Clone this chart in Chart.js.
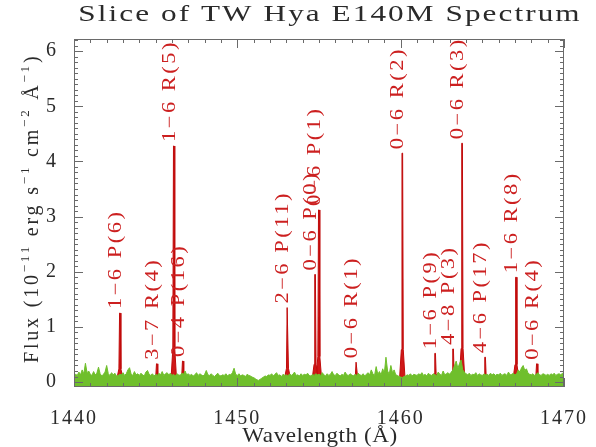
<!DOCTYPE html>
<html>
<head>
<meta charset="utf-8">
<script src="https://cdn.jsdelivr.net/npm/chart.js@4.4.1/dist/chart.umd.min.js"></script>
<style>
  html, body { margin: 0; padding: 0; background: #fff; }
</style>
</head>
<body>
<canvas id="spec" width="596" height="447"></canvas>
<script>
// continuum flux (1e-11 erg/s/cm2/A), 1440.0 - 1470.0 A every 0.1 A, one row per angstrom
var contStart = 1440, contStep = 0.1;
var contFlux = [
  0.10,0.14,0.12,0.18,0.13,0.22,0.15,0.34,0.17,0.20,
  0.14,0.12,0.19,0.13,0.16,0.27,0.15,0.11,0.14,0.18,
  0.30,0.15,0.12,0.17,0.13,0.16,0.11,0.12,0.14,0.13,
  0.17,0.12,0.15,0.22,0.26,0.14,0.12,0.19,0.13,0.15,
  0.12,0.16,0.13,0.11,0.18,0.21,0.14,0.12,0.15,0.11,
  0.14,0.12,0.16,0.13,0.19,0.12,0.15,0.17,0.13,0.16,
  0.12,0.14,0.11,0.15,0.13,0.12,0.16,0.14,0.20,0.13,
  0.15,0.12,0.14,0.11,0.13,0.17,0.12,0.15,0.13,0.11,
  0.14,0.21,0.13,0.12,0.15,0.12,0.10,0.13,0.16,0.12,
  0.11,0.13,0.12,0.15,0.11,0.14,0.13,0.17,0.25,0.14,
  0.12,0.15,0.11,0.13,0.12,0.10,0.14,0.12,0.11,0.09,
  0.08,0.06,0.04,0.03,0.05,0.07,0.09,0.11,0.10,0.13,
  0.12,0.15,0.11,0.14,0.17,0.12,0.13,0.10,0.14,0.12,
  0.13,0.11,0.15,0.12,0.14,0.18,0.12,0.13,0.11,0.15,
  0.12,0.14,0.13,0.16,0.12,0.11,0.14,0.12,0.15,0.13,
  0.14,0.12,0.17,0.13,0.11,0.15,0.12,0.14,0.19,0.13,
  0.12,0.16,0.13,0.11,0.14,0.12,0.18,0.13,0.12,0.15,
  0.13,0.11,0.14,0.12,0.16,0.13,0.12,0.15,0.11,0.14,
  0.17,0.13,0.22,0.15,0.12,0.28,0.14,0.19,0.13,0.24,
  0.16,0.45,0.20,0.14,0.30,0.17,0.22,0.13,0.12,0.10,
  0.09,0.08,0.10,0.11,0.13,0.12,0.15,0.11,0.14,0.13,
  0.12,0.15,0.13,0.17,0.12,0.14,0.11,0.16,0.13,0.12,
  0.15,0.13,0.12,0.18,0.14,0.12,0.20,0.13,0.15,0.17,
  0.14,0.18,0.22,0.30,0.38,0.25,0.33,0.40,0.22,0.18,
  0.15,0.13,0.16,0.12,0.14,0.13,0.17,0.12,0.15,0.13,
  0.12,0.15,0.13,0.14,0.12,0.16,0.13,0.15,0.12,0.14,
  0.13,0.16,0.12,0.14,0.15,0.12,0.18,0.13,0.14,0.16,
  0.13,0.15,0.22,0.18,0.26,0.30,0.21,0.24,0.16,0.14,
  0.13,0.15,0.12,0.14,0.17,0.13,0.12,0.15,0.14,0.12,
  0.14,0.12,0.15,0.13,0.16,0.12,0.14,0.15,0.13,0.16,
  0.14
];

// identified H2 emission lines
var lineName = ['1−6 P(6)', '3−7 R(4)', '1−6 R(5)', '0−4 P(16)', '2−6 P(11)', '0−6 P(0)', '0−6 P(1)',
                '0−6 R(1)', '0−6 R(2)', '1−6 P(9)', '4−8 P(3)', '0−6 R(3)', '4−6 P(17)', '1−6 R(8)', '0−6 R(4)'];
var lineWave = [1442.81, 1445.07, 1446.11, 1446.66, 1453.07, 1454.76, 1454.99,
                1457.29, 1460.10, 1462.11, 1463.21, 1463.76, 1465.17, 1467.06, 1468.34];
var linePeak = [1.25, 0.33, 4.28, 0.38, 1.35, 1.95, 3.12,
                0.36, 4.15, 0.52, 0.60, 4.33, 0.45, 1.90, 0.33];

var xTicks = [1440, 1450, 1460, 1470];
var yTicks = [0, 1, 2, 3, 4, 5, 6];

var green = '#6fbf2c';
var red = '#d01818';
var serif = '"Liberation Serif", "Times New Roman", serif';

// narrow emission profile: broad red foot, thin core
function profile(w, peak) {
  var foot = 0.1;
  var shoulder = foot + (peak - foot) * 0.12;
  return [
    { x: w - 0.16, y: foot },
    { x: w - 0.06, y: shoulder },
    { x: w - 0.02, y: peak },
    { x: w + 0.02, y: peak },
    { x: w + 0.06, y: shoulder },
    { x: w + 0.16, y: foot }
  ];
}

var datasets = [{
  label: 'continuum',
  data: contFlux.map(function (f, i) { return { x: contStart + i * contStep, y: f }; }),
  borderColor: green,
  backgroundColor: green,
  borderWidth: 1,
  fill: 'start',
  pointRadius: 0,
  order: 0
}];
lineWave.forEach(function (w, i) {
  datasets.push({
    label: lineName[i],
    data: profile(w, linePeak[i]),
    borderColor: '#c00a0a',
    backgroundColor: red,
    borderWidth: 1,
    fill: 'start',
    pointRadius: 0,
    order: 1
  });
});

// wide-set serif text (glyphs stretched along the baseline), returns drawn width
function spaced(ctx, txt, x, y, sp, stretch) {
  ctx.save();
  ctx.translate(x, y);
  ctx.scale(stretch, 1);
  ctx.letterSpacing = sp + 'px';
  ctx.fillText(txt, 0, 0);
  var w = ctx.measureText(txt).width * stretch;
  ctx.restore();
  return w;
}

var decor = {
  id: 'decor',
  beforeDraw: function (chart) {
    chart.ctx.letterSpacing = '2px';
  },
  afterDatasetsDraw: function (chart) {
    var ctx = chart.ctx, a = chart.chartArea, xs = chart.scales.x, ys = chart.scales.y;
    ctx.save();
    ctx.strokeStyle = '#6a6a6a';
    ctx.lineWidth = 1;
    ctx.strokeRect(a.left + 0.5, a.top + 0.5, a.right - a.left - 1, a.bottom - a.top - 1);
    // inward ticks: 1 A minor / 10 A major, 0.1 minor / 1 major
    ctx.beginPath();
    for (var w = xs.min; w <= xs.max; w++) {
      var px = Math.round(xs.getPixelForValue(w)) + 0.5;
      var len = (w % 10 === 0) ? 9 : 4;
      ctx.moveTo(px, a.bottom); ctx.lineTo(px, a.bottom - len);
      ctx.moveTo(px, a.top); ctx.lineTo(px, a.top + len);
    }
    for (var k = 0; k <= 62; k++) {
      var v = k / 10;
      if (v > ys.max) break;
      var py = Math.round(ys.getPixelForValue(v)) + 0.5;
      var l2 = (k % 10 === 0) ? 9 : 4;
      ctx.moveTo(a.left, py); ctx.lineTo(a.left + l2, py);
      ctx.moveTo(a.right, py); ctx.lineTo(a.right - l2, py);
    }
    ctx.stroke();

    // line identifications, reading upward from just above each peak
    ctx.fillStyle = '#cc2020';
    ctx.font = '18px ' + serif;
    ctx.textAlign = 'left';
    ctx.textBaseline = 'alphabetic';
    lineWave.forEach(function (w, i) {
      ctx.save();
      ctx.translate(Math.round(xs.getPixelForValue(w)) + 1, ys.getPixelForValue(linePeak[i]) - 4);
      ctx.rotate(-Math.PI / 2);
      spaced(ctx, lineName[i], 0, 0, 2, 1.25);
      ctx.restore();
    });
    ctx.restore();
  },
  afterDraw: function (chart) {
    var ctx = chart.ctx;
    ctx.save();
    ctx.fillStyle = '#2a2a2a';
    ctx.textBaseline = 'alphabetic';

    ctx.textAlign = 'center';
    ctx.font = '24px ' + serif;
    spaced(ctx, 'Slice of TW Hya E140M Spectrum', 330, 21, 1.6, 1.3);

    ctx.font = '21px ' + serif;
    spaced(ctx, 'Wavelength (Å)', 320, 442, 0.5, 1.1);

    // y title with superscript exponents
    var parts = [['Flux (10', 0], ['−11', 1], [' erg s', 0], ['−1', 1], [' cm', 0], ['−2', 1], [' Å', 0], ['−1', 1], [')', 0]];
    ctx.textAlign = 'left';
    ctx.translate(38, 363);
    ctx.rotate(-Math.PI / 2);
    var pos = 0;
    parts.forEach(function (p) {
      ctx.font = (p[1] ? '13px ' : '20px ') + serif;
      pos += spaced(ctx, p[0], pos, p[1] ? -9 : 0, 2.8, 1);
    });
    ctx.restore();
  }
};

new Chart(document.getElementById('spec'), {
  type: 'line',
  data: { datasets: datasets },
  options: {
    responsive: false,
    animation: false,
    devicePixelRatio: 1,
    layout: { padding: { top: 39, right: 31, left: 0, bottom: 0 } },
    plugins: { legend: { display: false }, tooltip: { enabled: false }, title: { display: false } },
    elements: { line: { tension: 0 } },
    scales: {
      x: {
        type: 'linear',
        min: 1440,
        max: 1470,
        grid: { display: false },
        border: { display: false },
        afterBuildTicks: function (s) { s.ticks = xTicks.map(function (v) { return { value: v }; }); },
        afterFit: function (s) { s.height = 60; },
        ticks: {
          font: { family: serif, size: 20 }, color: '#2a2a2a', padding: 12, maxRotation: 0, autoSkip: false,
          callback: function (v) { return String(v); }
        }
      },
      y: {
        type: 'linear',
        min: -0.09,
        max: 6.22,
        grid: { display: false },
        border: { display: false },
        afterBuildTicks: function (s) { s.ticks = yTicks.map(function (v) { return { value: v }; }); },
        afterFit: function (s) { s.width = 74; },
        ticks: {
          font: { family: serif, size: 20 }, color: '#2a2a2a', padding: 8, autoSkip: false,
          callback: function (v) { return String(v); }
        }
      }
    }
  },
  plugins: [decor]
});
</script>
</body>
</html>
